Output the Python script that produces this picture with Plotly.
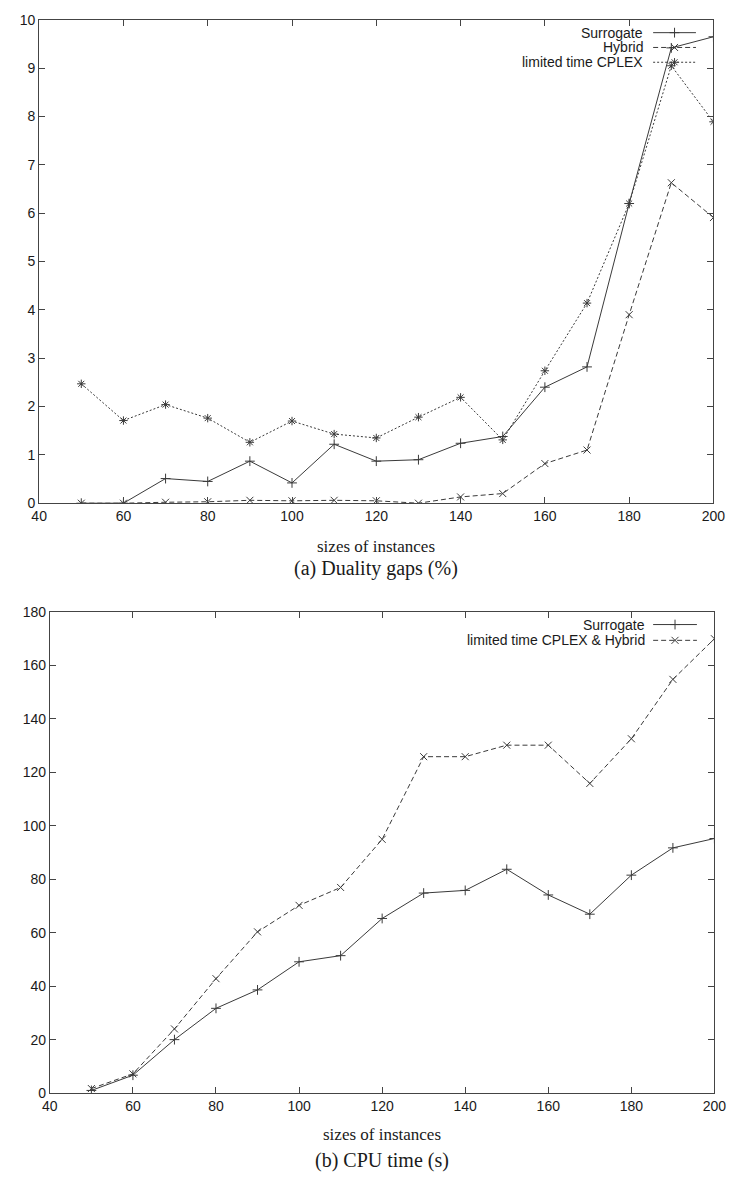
import plotly.graph_objects as go

# ---- data -------------------------------------------------------------
sizes = [50, 60, 70, 80, 90, 100, 110, 120, 130, 140, 150, 160, 170, 180, 190, 200]

# (a) duality gaps (%)
gap_surrogate = [0.0, 0.0, 0.51, 0.45, 0.87, 0.42, 1.22, 0.87, 0.90, 1.24, 1.38, 2.40, 2.82, 6.20, 9.42, 9.65]
gap_hybrid = [0.0, 0.0, 0.02, 0.03, 0.06, 0.05, 0.06, 0.05, 0.0, 0.13, 0.20, 0.82, 1.10, 3.90, 6.63, 5.91]
gap_cplex = [2.47, 1.71, 2.04, 1.76, 1.26, 1.70, 1.43, 1.35, 1.78, 2.19, 1.31, 2.74, 4.14, 6.20, 9.05, 7.89]

# (b) CPU time (s)
cpu_surrogate = [1.0, 6.7, 20.0, 31.7, 38.6, 49.1, 51.4, 65.3, 74.8, 75.8, 83.7, 74.1, 66.9, 81.5, 91.7, 95.2]
cpu_cplex_hybrid = [1.7, 7.2, 24.0, 42.8, 60.3, 70.2, 76.9, 94.9, 125.8, 125.8, 130.1, 130.1, 115.8, 132.5, 154.7, 169.9]

x_ticks = [40, 60, 80, 100, 120, 140, 160, 180, 200]
gap_ticks = list(range(0, 11))
cpu_ticks = list(range(0, 181, 20))

# ---- page geometry (pixels) ------------------------------------------
W, H = 742, 1183
TOP = dict(left=32, right=725, top=12, bottom=502)
BOT = dict(left=43, right=726, top=612, bottom=1100)

LINE = "#3a3a3a"
AXIS = "#444444"
SANS = "Liberation Sans, Arial, sans-serif"
SERIF = "Liberation Serif, Times New Roman, serif"
MSIZE = 7

STYLES = {
    "surrogate": dict(dash="solid", symbol="cross-thin-open"),
    "hybrid": dict(dash="5px,3px", symbol="x-thin-open"),
    "cplex": dict(dash="2px,2px", symbol="asterisk-open"),
}


def xdom(box):
    return [box["left"] / W, box["right"] / W]


def ydom(box):
    return [1 - box["bottom"] / H, 1 - box["top"] / H]


fig = go.Figure()


def add_series(x, y, style, xa, ya):
    st = STYLES[style]
    fig.add_trace(go.Scatter(
        x=x, y=y, mode="lines+markers", xaxis=xa, yaxis=ya,
        line=dict(color=LINE, width=1, dash=st["dash"]),
        marker=dict(symbol=st["symbol"], size=MSIZE, color=LINE,
                    line=dict(color=LINE, width=1)),
        showlegend=False, hoverinfo="skip"))


add_series(sizes, gap_surrogate, "surrogate", "x", "y")
add_series(sizes, gap_hybrid, "hybrid", "x", "y")
add_series(sizes, gap_cplex, "cplex", "x", "y")
add_series(sizes, cpu_surrogate, "surrogate", "x2", "y2")
add_series(sizes, cpu_cplex_hybrid, "hybrid", "x2", "y2")

# ---- key boxes drawn in page-pixel space ------------------------------
keys = [
    (["Surrogate", "Hybrid", "limited time CPLEX"],
     ["surrogate", "hybrid", "cplex"], 655, 663, 707, [25, 40, 55]),
    (["Surrogate", "limited time CPLEX & Hybrid"],
     ["surrogate", "hybrid"], 657, 663, 708, [625, 641]),
]
annotations = []
for labels, styles, text_right, s0, s1, rows in keys:
    for lab, st, yy in zip(labels, styles, rows):
        s = STYLES[st]
        fig.add_trace(go.Scatter(
            x=[s0, s1], y=[yy, yy], mode="lines", xaxis="x3", yaxis="y3",
            line=dict(color=LINE, width=1, dash=s["dash"]),
            showlegend=False, hoverinfo="skip"))
        fig.add_trace(go.Scatter(
            x=[(s0 + s1) / 2], y=[yy], mode="markers", xaxis="x3", yaxis="y3",
            marker=dict(symbol=s["symbol"], size=MSIZE, color=LINE,
                        line=dict(color=LINE, width=1)),
            showlegend=False, hoverinfo="skip"))
        annotations.append(dict(
            x=text_right / W, y=1 - yy / H, xref="paper", yref="paper",
            text=lab, showarrow=False, xanchor="right", yanchor="middle",
            font=dict(family=SANS, size=14, color="#1a1a1a")))


def caption(text, cx, cy, size):
    annotations.append(dict(
        x=cx / W, y=1 - cy / H, xref="paper", yref="paper", text=text,
        showarrow=False, xanchor="center", yanchor="middle",
        font=dict(family=SERIF, size=size, color="#1a1a1a")))


caption("sizes of instances", (TOP["left"] + TOP["right"]) / 2, 546, 17)
caption("(a) Duality gaps (%)", (TOP["left"] + TOP["right"]) / 2, 568, 20)
caption("sizes of instances", (BOT["left"] + BOT["right"]) / 2, 1142, 17)
caption("(b) CPU time (s)", (BOT["left"] + BOT["right"]) / 2, 1168, 20)

axis_common = dict(
    showline=True, linecolor=AXIS, linewidth=1, mirror="ticks",
    ticks="inside", ticklen=6, tickcolor=AXIS, tickwidth=1,
    showgrid=False, zeroline=False,
    tickfont=dict(family=SANS, size=14, color="#1a1a1a"),
)

fig.update_layout(
    width=W, height=H,
    margin=dict(l=0, r=0, t=0, b=0),
    paper_bgcolor="white", plot_bgcolor="rgba(0,0,0,0)",
    showlegend=False,
    xaxis=dict(domain=xdom(TOP), anchor="y", range=[40, 200],
               tickvals=x_ticks, **axis_common),
    yaxis=dict(domain=ydom(TOP), anchor="x", range=[0, 10],
               tickvals=gap_ticks, **axis_common),
    xaxis2=dict(domain=xdom(BOT), anchor="y2", range=[40, 200],
                tickvals=x_ticks, **axis_common),
    yaxis2=dict(domain=ydom(BOT), anchor="x2", range=[0, 180],
                tickvals=cpu_ticks, **axis_common),
    xaxis3=dict(domain=[0, 1], anchor="y3", range=[0, W], visible=False),
    yaxis3=dict(domain=[0, 1], anchor="x3", range=[H, 0], visible=False),
    annotations=annotations,
)

fig.write_html("out.html")
